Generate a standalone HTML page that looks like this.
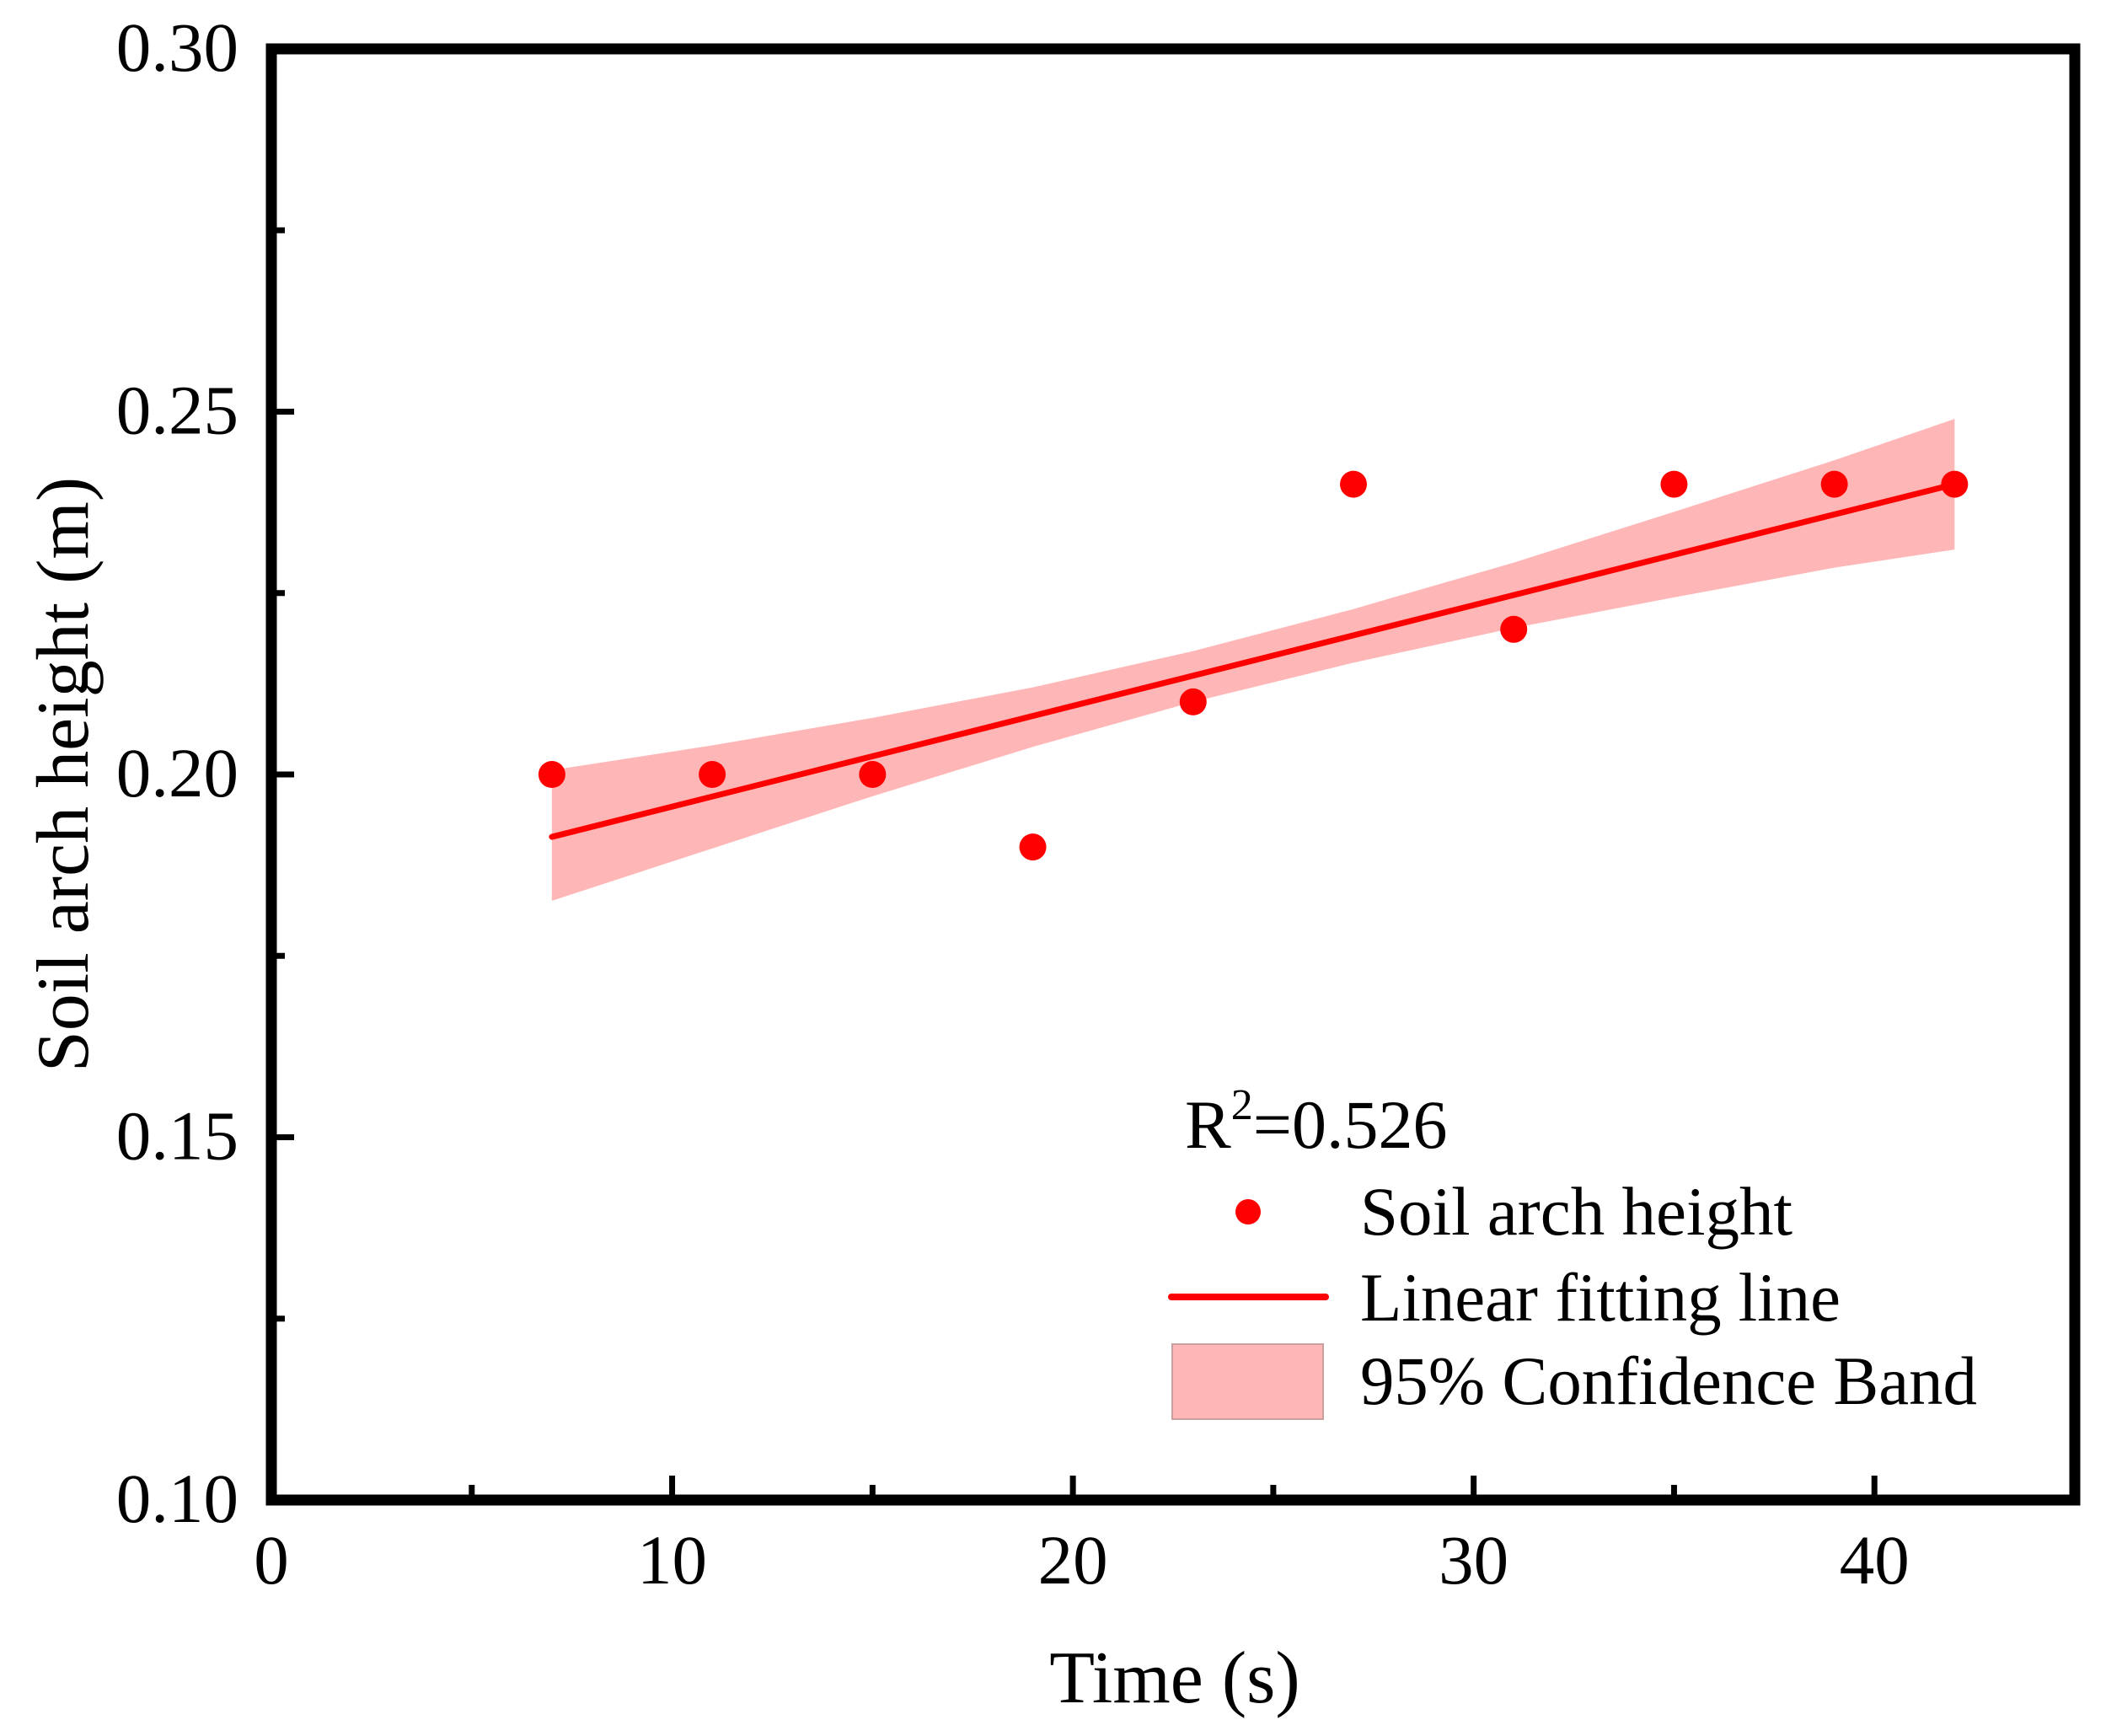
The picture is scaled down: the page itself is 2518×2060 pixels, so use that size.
<!DOCTYPE html>
<html><head><meta charset="utf-8"><style>
html,body{margin:0;padding:0;background:#fff;}
svg{display:block;font-family:"Liberation Serif",serif;}
</style></head><body>
<svg id="chart" width="2518" height="2060" viewBox="0 0 2518 2060" xmlns="http://www.w3.org/2000/svg">
<g id="bandG"></g>
<g id="lineG"></g>
<g id="ptsG"></g>
<g id="axG"></g>
<text x="1394" y="2020" font-size="88" text-anchor="middle">Time (s)</text>
<text x="0" y="0" font-size="88" text-anchor="middle" transform="translate(104,919) rotate(-90)">Soil arch height (m)</text>
<g>
<text x="1406" y="1362" font-size="82">R<tspan font-size="52" dy="-34">2</tspan><tspan dy="34">=0.526</tspan></text>
<circle cx="1481" cy="1438" r="15" fill="#ff0000"/>
<text x="1614" y="1465" font-size="82" textLength="513" lengthAdjust="spacingAndGlyphs">Soil arch height</text>
<line x1="1390" y1="1539" x2="1573" y2="1539" stroke="#ff0000" stroke-width="8" stroke-linecap="round"/>
<text x="1614" y="1567" font-size="82" textLength="570" lengthAdjust="spacingAndGlyphs">Linear fitting line</text>
<rect x="1391" y="1595" width="179" height="89" fill="#ffb6b6" stroke="#c8a0a0" stroke-width="2"/>
<text x="1614" y="1666" font-size="82" textLength="732" lengthAdjust="spacingAndGlyphs">95% Confidence Band</text>
</g>
</svg>
<script>
const xVals = [7, 11, 15, 19, 23, 27, 31, 35, 39, 42];
const yVals = [0.20, 0.20, 0.20, 0.19, 0.21, 0.24, 0.22, 0.24, 0.24, 0.24];
const fitX = [7, 42];
const fitY = [0.1914, 0.2400];
const bandX = [7, 11, 15, 19, 23, 27, 31, 35, 39, 42];
const bandUpper = [0.2006, 0.2040, 0.2078, 0.2120, 0.2170, 0.2228, 0.2292, 0.2362, 0.2433, 0.2490];
const bandLower = [0.1826, 0.1898, 0.1970, 0.2038, 0.2100, 0.2154, 0.2202, 0.2244, 0.2285, 0.2310];
const xTicks = [0, 10, 20, 30, 40];
const xMinor = [5, 15, 25, 35, 45];
const yTicks = [0.10, 0.15, 0.20, 0.25, 0.30];
const yMinor = [0.125, 0.175, 0.225, 0.275];

const L=322,R=2462,T=58,B=1780, XMAX=45, YMIN=0.10, YMAX=0.30;
const sx=v=>L+(v/XMAX)*(R-L);
const sy=v=>B-(v-YMIN)/(YMAX-YMIN)*(B-T);
const NS='http://www.w3.org/2000/svg';
function mk(tag,parent,attrs){const e=document.createElementNS(NS,tag);for(const k in attrs)e.setAttribute(k,attrs[k]);parent.appendChild(e);return e;}

// band
let d='M'+bandX.map((x,i)=>sx(x)+','+sy(bandUpper[i])).join('L');
for(let i=bandX.length-1;i>=0;i--) d+='L'+sx(bandX[i])+','+sy(bandLower[i]);
d+='Z';
const band=mk('path',document.getElementById('bandG'),{d:d,fill:'#ffb6b6'});



// fit line
const fl=mk('line',document.getElementById('lineG'),{x1:sx(fitX[0]),y1:sy(fitY[0]),x2:sx(fitX[1]),y2:sy(fitY[1]),stroke:'#ff0000','stroke-width':7,'stroke-linecap':'round'});



// points
const pg=document.getElementById('ptsG');
xVals.forEach((x,i)=>{
  const c=mk('circle',pg,{cx:sx(x),cy:sy(yVals[i]),r:16,fill:'#ff0000'});
  
  
});

// axes
const ag=document.getElementById('axG');
const fr=mk('rect',ag,{x:L,y:T,width:R-L,height:B-T,fill:'none',stroke:'#000','stroke-width':13});


xTicks.forEach(v=>{
  const t=mk('line',ag,{x1:sx(v),y1:B,x2:sx(v),y2:B-29,stroke:'#000','stroke-width':7});
  
  
  const lb=mk('text',ag,{x:sx(v),y:1879,'font-size':83,'text-anchor':'middle'});
  lb.textContent=String(v);
  
  
});
xMinor.forEach(v=>{
  if(v>=XMAX) return;
  const t=mk('line',ag,{x1:sx(v),y1:B,x2:sx(v),y2:B-18,stroke:'#000','stroke-width':7});
  
  
});
yTicks.forEach(v=>{
  const t=mk('line',ag,{x1:L,y1:sy(v),x2:L+27,y2:sy(v),stroke:'#000','stroke-width':7});
  
  
  const lb=mk('text',ag,{x:283,y:sy(v)+26,'font-size':83,'text-anchor':'end'});
  lb.textContent=v.toFixed(2);
  
  
});
yMinor.forEach(v=>{
  const t=mk('line',ag,{x1:L,y1:sy(v),x2:L+16,y2:sy(v),stroke:'#000','stroke-width':7});
  
  
});
</script>
</body></html>
